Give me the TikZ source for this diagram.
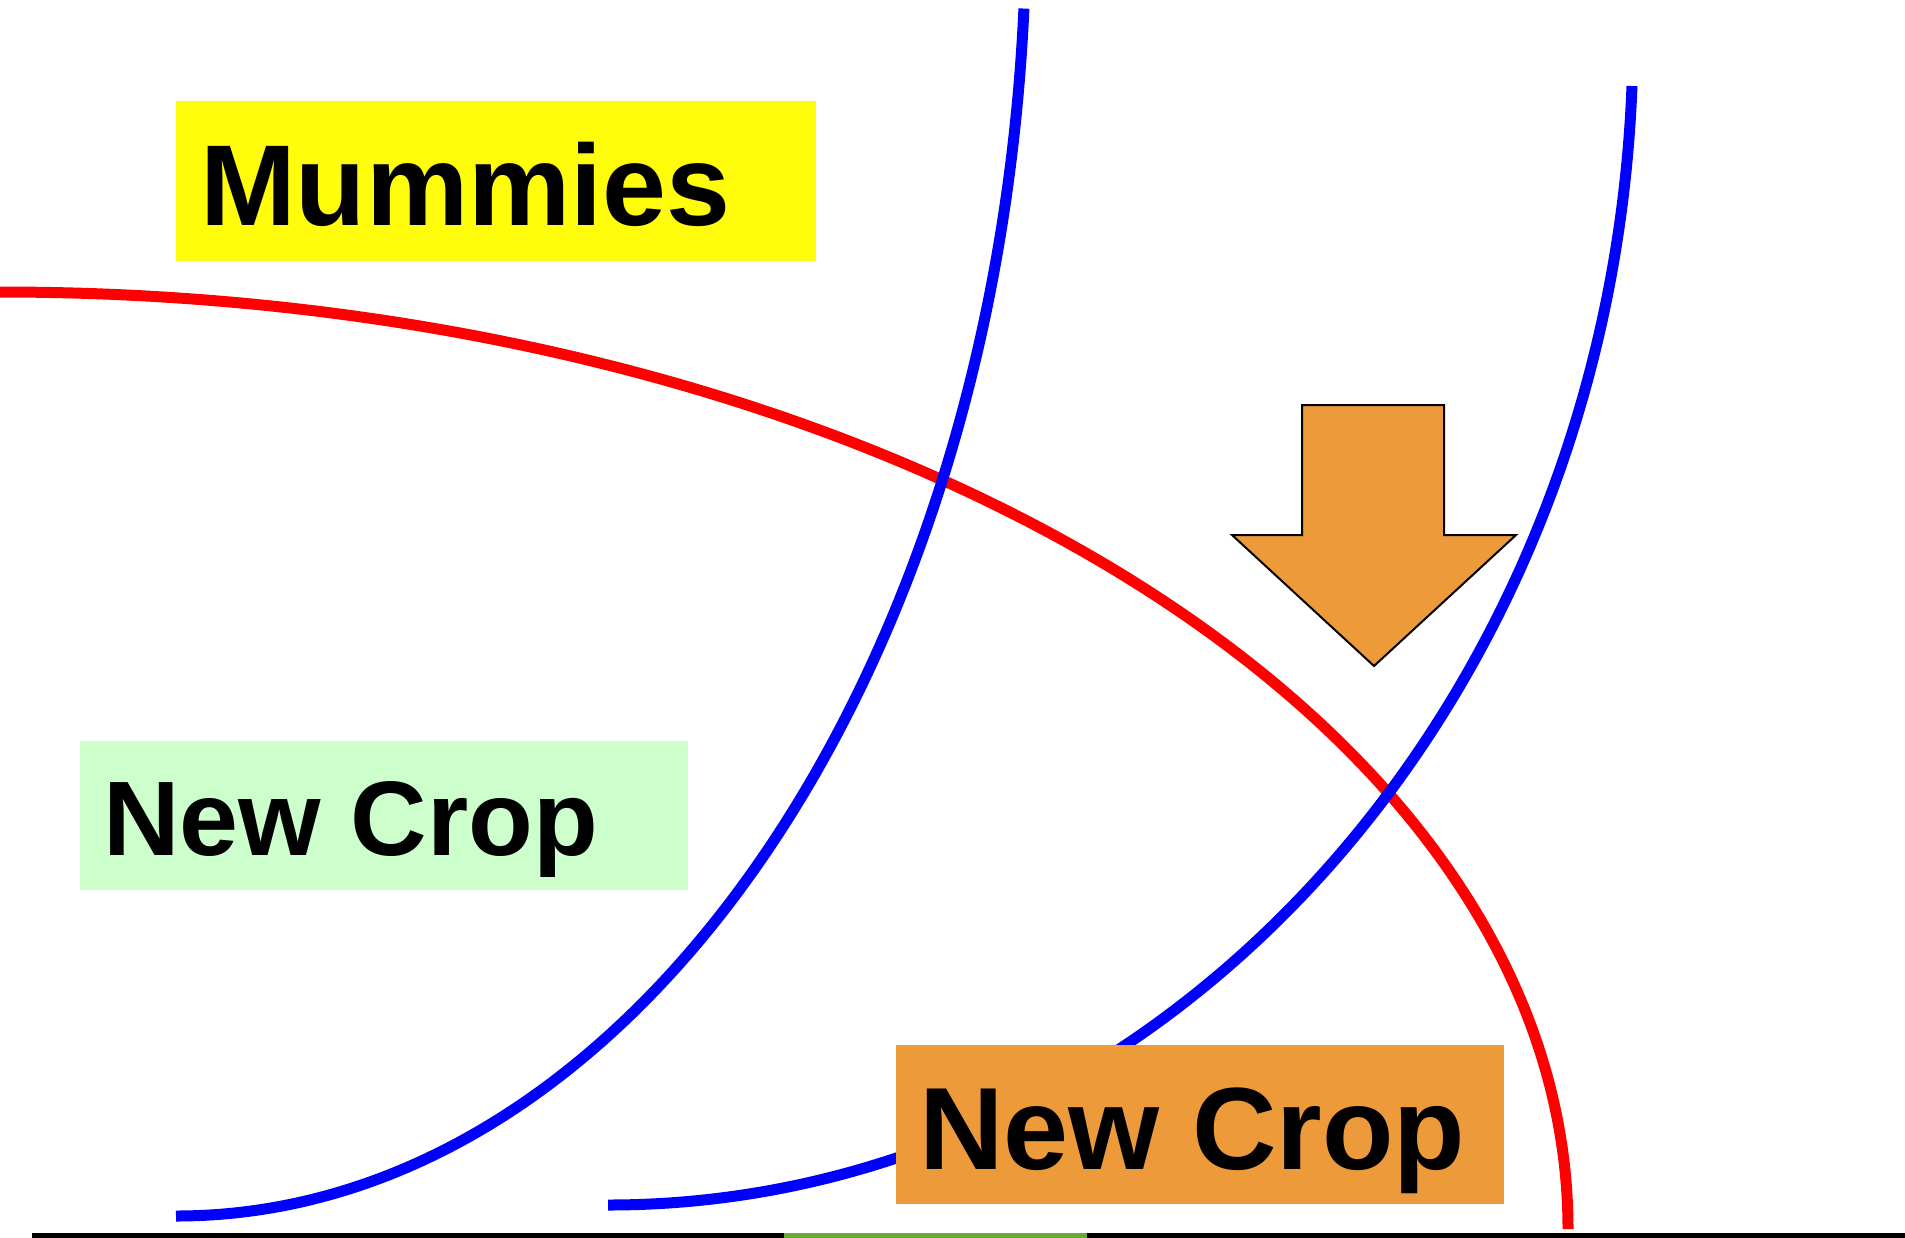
\documentclass[tikz,border=0pt]{standalone}
\usepackage{fontspec}
\setmainfont{Liberation Sans}
\definecolor{myyellow}{HTML}{FFFC0C}
\definecolor{mygreen}{HTML}{CCFFCC}
\definecolor{myorange}{HTML}{ED9A3A}
\definecolor{seggreen}{HTML}{67AD35}
\tikzset{
  curveblue/.style={draw=blue, line width=11pt},
  curvered/.style={draw=red, line width=11pt},
  lbl/.style={anchor=base west, inner sep=0pt, font=\bfseries},
}
\begin{document}
\begin{tikzpicture}[x=1pt,y=-1pt]
\useasboundingbox[fill=white] (0,0) rectangle (1905,1237);
% curves
\draw[curvered] (0,292) arc[start angle=-90, end angle=0, x radius=1568, y radius=937];
\draw[curveblue] (176,1216) arc[start angle=90, end angle=4, x radius=850, y radius=1298];
\draw[curveblue] (608,1205) arc[start angle=90, end angle=2.5, x radius=1025, y radius=1170];
% boxes
\fill[myyellow] (176,101) rectangle (816,261);
\node[lbl, font=\bfseries\fontsize{115}{115}\selectfont] (mum) at (200,225) {Mummies};
\fill[mygreen] (80,741) rectangle (688,890);
\node[lbl, font=\bfseries\fontsize{106}{106}\selectfont] (crop1) at (103,855) {New Crop};
\fill[myorange] (896,1045) rectangle (1504,1204);
\node[lbl, font=\bfseries\fontsize{117}{117}\selectfont] (crop2) at (919,1169) {New Crop};
% arrow
\draw[fill=myorange, line width=2pt, line join=miter] (1302,405) -- (1444,405) -- (1444,535) -- (1516,535) -- (1374,666) -- (1232,535) -- (1302,535) -- cycle;
% bottom line
\coordinate (l0) at (32,1235);
\coordinate (l1) at (1905,1235);
\coordinate (g0) at (784,1235);
\coordinate (g1) at (1087,1235);
\draw[black, line width=5pt] (l0) -- (l1);
\draw[seggreen, line width=5pt] (g0) -- (g1);
\end{tikzpicture}
\end{document}
